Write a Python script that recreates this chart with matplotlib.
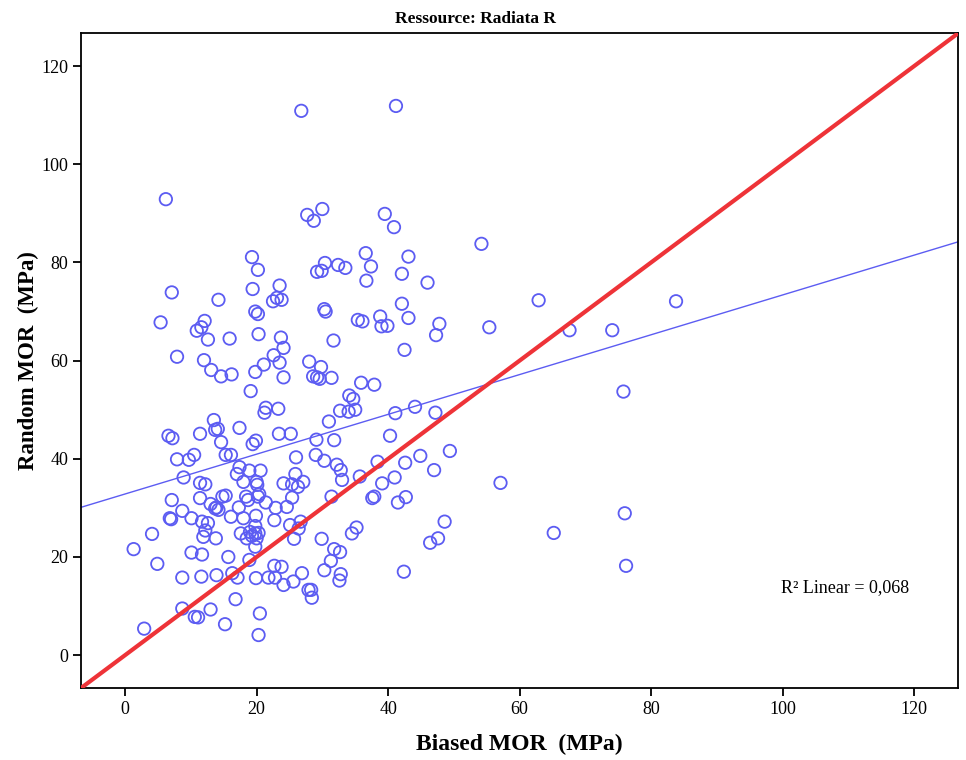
import numpy as np
import matplotlib
matplotlib.use("Agg")
import matplotlib.pyplot as plt

plt.rcParams['font.family'] = ['Liberation Serif', 'DejaVu Serif']

# Biased MOR (x) and Random MOR (y), MPa
biased_mor = [
    6.2, 19.3, 20.2, 26.8, 41.2, 30.0, 27.7, 28.7, 39.5, 40.9,
    36.6, 43.1, 30.4, 29.2, 29.9, 32.4, 33.5, 37.4, 42.1, 54.2,
    7.1, 14.2, 19.4, 23.5, 22.5, 23.1, 23.8, 19.8, 20.2, 5.4,
    12.1, 11.6, 10.9, 12.6, 15.9, 20.3, 23.7, 24.1, 7.9, 12.0,
    13.1, 14.6, 16.2, 19.8, 21.1, 22.6, 23.5, 24.1, 19.1, 21.4,
    21.2, 23.3, 13.5, 13.7, 14.1, 17.4, 6.6, 7.2, 11.4, 14.6,
    23.4, 19.4, 19.9, 36.7, 46.0, 30.3, 30.5, 42.1, 43.1, 35.4,
    36.1, 38.8, 39.0, 39.9, 47.8, 47.3, 31.7, 42.5, 28.0, 29.8,
    28.6, 29.2, 29.6, 31.4, 35.9, 37.9, 34.1, 34.7, 32.7, 34.0,
    35.0, 31.0, 41.1, 44.1, 47.2, 25.2, 29.1, 31.8, 40.3, 49.4,
    62.9, 55.4, 67.6, 74.1, 75.8, 83.8, 76.0, 76.2, 57.1, 65.2,
    7.9, 9.7, 10.5, 15.3, 16.1, 8.9, 17.4, 17.0, 18.9, 20.6,
    18.0, 20.0, 20.1, 24.1, 11.4, 12.2, 7.1, 11.4, 13.0, 14.8,
    15.3, 13.9, 14.2, 13.7, 18.4, 18.7, 20.2, 20.4, 21.4, 22.9,
    17.3, 8.7, 6.8, 7.0, 10.1, 11.7, 12.6, 16.1, 18.0, 19.9,
    22.7, 12.2, 19.8, 17.6, 18.5, 19.0, 19.3, 19.8, 20.3, 20.0,
    11.9, 13.8, 19.8, 4.1, 1.3, 10.1, 11.7, 15.7, 18.9, 4.9,
    8.7, 11.6, 13.9, 16.3, 17.1, 19.9, 21.8, 22.8, 22.7, 23.8,
    24.1, 16.8, 8.7, 10.6, 11.1, 13.0, 20.5, 15.2, 2.9, 20.3,
    26.0, 29.0, 30.3, 32.2, 32.8, 33.0, 38.4, 42.6, 44.9, 47.0,
    35.7, 41.0, 39.1, 25.9, 27.1, 26.3, 25.4, 25.4, 24.6, 31.4,
    37.6, 37.9, 41.5, 42.7, 25.1, 26.7, 26.4, 25.7, 29.9, 34.5,
    35.2, 31.8, 32.7, 31.3, 30.3, 32.8, 32.6, 26.9, 25.6, 27.9,
    28.3, 28.4, 42.4, 48.6, 46.4, 47.6,
]
random_mor = [
    92.9, 81.1, 78.5, 110.9, 111.9, 90.9, 89.7, 88.5, 89.9, 87.2,
    81.9, 81.2, 79.9, 78.1, 78.3, 79.5, 78.9, 79.2, 77.7, 83.8,
    73.9, 72.4, 74.6, 75.3, 72.1, 72.8, 72.4, 70.0, 69.5, 67.8,
    68.1, 66.8, 66.1, 64.3, 64.5, 65.4, 64.7, 62.6, 60.8, 60.1,
    58.1, 56.8, 57.2, 57.7, 59.2, 61.1, 59.6, 56.6, 53.8, 50.4,
    49.4, 50.2, 47.9, 45.9, 46.1, 46.3, 44.7, 44.2, 45.1, 43.4,
    45.1, 43.0, 43.7, 76.3, 75.9, 70.5, 70.0, 71.6, 68.7, 68.3,
    68.0, 69.0, 67.0, 67.1, 67.5, 65.2, 64.1, 62.2, 59.8, 58.7,
    56.8, 56.6, 56.3, 56.5, 55.5, 55.1, 52.9, 52.2, 49.8, 49.6,
    50.0, 47.6, 49.3, 50.6, 49.4, 45.1, 43.9, 43.8, 44.7, 41.6,
    72.3, 66.8, 66.2, 66.2, 53.7, 72.1, 28.9, 18.2, 35.1, 24.9,
    39.9, 39.8, 40.8, 40.8, 40.8, 36.2, 38.3, 36.9, 37.6, 37.6,
    35.3, 35.3, 34.7, 35.0, 35.1, 34.8, 31.6, 32.0, 30.8, 32.3,
    32.5, 30.1, 29.6, 29.9, 32.3, 31.6, 32.3, 32.8, 31.1, 30.0,
    30.1, 29.4, 27.9, 27.7, 27.9, 27.2, 26.9, 28.2, 27.9, 28.4,
    27.5, 25.4, 26.3, 24.8, 23.8, 25.1, 24.3, 24.8, 24.9, 23.8,
    24.1, 23.8, 22.1, 24.7, 21.6, 20.9, 20.5, 20.0, 19.4, 18.6,
    15.8, 16.0, 16.3, 16.7, 15.8, 15.7, 15.8, 15.8, 18.2, 18.0,
    14.3, 11.4, 9.5, 7.8, 7.7, 9.3, 8.5, 6.3, 5.4, 4.1,
    40.3, 40.8, 39.6, 38.8, 37.7, 35.7, 39.4, 39.2, 40.6, 37.7,
    36.4, 36.2, 35.0, 36.9, 35.3, 34.3, 34.8, 32.1, 30.2, 32.3,
    32.0, 32.3, 31.1, 32.2, 26.5, 27.2, 25.8, 23.7, 23.7, 24.8,
    26.0, 21.6, 21.0, 19.2, 17.3, 16.5, 15.2, 16.7, 15.0, 13.3,
    13.3, 11.7, 17.0, 27.2, 22.9, 23.8,
]

axis_lim = (-6.7, 126.7)
ticks = [0, 20, 40, 60, 80, 100, 120]
r2_label = "R\u00b2 Linear = 0,068"

x = np.array(biased_mor)
y = np.array(random_mor)
slope, intercept = np.polyfit(x, y, 1)

fig = plt.figure(figsize=(9.66, 7.6), dpi=100)
ax = fig.add_axes([0.0839, 0.0947, 0.9079, 0.8615])

ax.scatter(x, y, s=80, facecolors='none', edgecolors='#5c5cf2',
           linewidths=1.3, zorder=3)

xs = np.array(axis_lim)
# least squares fit line
ax.plot(xs, intercept + slope * xs, color='#5c5cf2', lw=1.0, zorder=2)
# reference line y = x
ax.plot(xs, xs, color='#ee3338', lw=3.0, zorder=4)

ax.set_xlim(axis_lim)
ax.set_ylim(axis_lim)
ax.set_xticks(ticks)
ax.set_yticks(ticks)
ax.tick_params(direction='out', length=6, width=1.3, labelsize=13,
               colors='black', pad=3)
for sp in ax.spines.values():
    sp.set_linewidth(1.3)

ax.text(99.8, 13.7, r2_label, fontsize=13, va='center', ha='left')

fig.text(0.492, 1 - 19 / 760, "Ressource: Radiata R", fontsize=12.5,
         fontweight='bold', ha='center', va='center')
ax.set_xlabel("Biased MOR  (MPa)", fontsize=17, fontweight='bold', labelpad=12)
ax.set_ylabel("Random MOR  (MPa)", fontsize=16.5, fontweight='bold', labelpad=2)

fig.savefig("out.png", dpi=100)
